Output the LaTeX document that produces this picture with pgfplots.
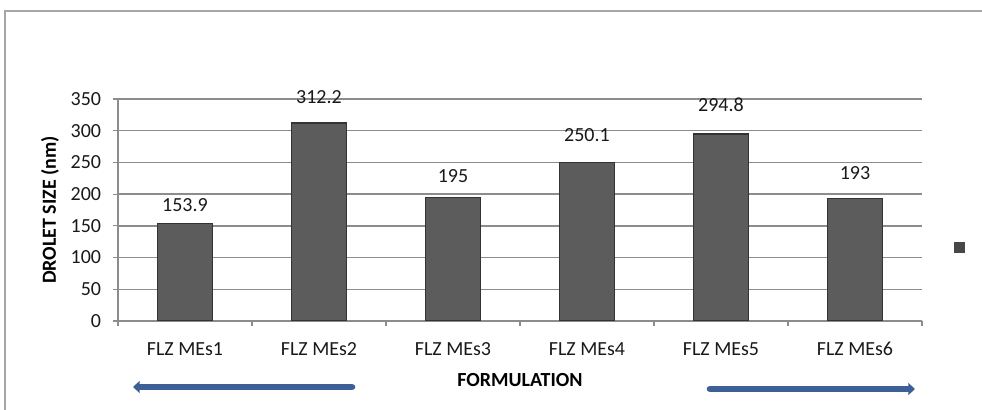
\documentclass[border=0pt]{standalone}
\usepackage{pgfplots}
\pgfplotsset{compat=1.18}
\usepackage{pgfplotstable}
\usepackage{fontspec}
\setmainfont{Carlito}
\usetikzlibrary{arrows.meta}

\definecolor{gridgray}{HTML}{8C8C8C}
\definecolor{framegray}{HTML}{A6A6A6}
\definecolor{arrowblue}{HTML}{3D6096}
\definecolor{barfill}{HTML}{5C5C5C}

% value and label offset (pt) for each formulation
\pgfplotstableread{
x  size   dy
0  153.9  13.5
1  312.2  19.5
2  195    15.75
3  250.1  20.25
4  294.8  21.75
5  193    19.5
}\dropletdata

\begin{document}
\fontsize{15}{18}\selectfont
\begin{tikzpicture}
\useasboundingbox (0,0) rectangle (736.5pt,307.5pt);
% outer chart frame
\draw[framegray, line width=1.5pt] (3.75pt,-2pt) -- (3.75pt,299pt) -- (740pt,299pt);

\begin{axis}[
  at={(88.5pt,66.75pt)}, anchor=south west,
  scale only axis, width=603pt, height=166.5pt,
  xmin=-0.5, xmax=5.5, ymin=0, ymax=350,
  axis x line*=bottom, axis y line*=left,
  axis line style={gridgray, line width=0.9pt},
  tick align=outside,
  major tick length=3.75pt,
  tick style={gridgray, line width=0.8pt},
  ytick={0,50,...,350},
  ymajorgrids,
  grid style={gridgray, line width=1pt},
  xtick={-0.5,0.5,...,5.5},
  x tick label as interval,
  xticklabels={FLZ MEs1,FLZ MEs2,FLZ MEs3,FLZ MEs4,FLZ MEs5,FLZ MEs6},
  xticklabel style={anchor=center, yshift=-17.25pt},
  yticklabel style={anchor=east, xshift=-3.75pt},
  /pgf/number format/assume math mode=true,
  ticklabel style={font=\fontsize{15}{18}\selectfont, text=black!90},
  xlabel={\textbf{FORMULATION}},
  ylabel={\textbf{DROLET SIZE (nm)}},
  every axis x label/.style={at={(axis description cs:0.5,0)}, anchor=center, yshift=-44.25pt, font=\fontsize{15}{18}\selectfont},
  every axis y label/.style={at={(axis description cs:-0.0846,0.5)}, anchor=center, rotate=90, font=\fontsize{15}{18}\selectfont},
  legend style={at={(1.05,0.333)}, anchor=center, draw=none, fill=none, inner sep=0pt, row sep=0pt},
  legend image code/.code={\fill[black!72] (0pt,-3.75pt) rectangle (7.5pt,3.75pt);},
]
\addplot[
  ybar, bar width=41.25pt,
  draw=black!80, line width=0.8pt,
  fill=barfill,
  visualization depends on={\thisrow{dy} \as \labeldy},
  nodes near coords,
  point meta=explicit symbolic,
  every node near coord/.append style={anchor=center, yshift=\labeldy pt, font=\fontsize{15}{18}\selectfont, text=black!90},
] table[x=x, y=size, meta=size] {\dropletdata};
\addlegendentry{}
\end{axis}

% direction arrows under the axis
\draw[arrowblue, line width=5pt, line cap=round, -{Triangle[width=9pt,length=5pt]}] (264pt,17.25pt) -- (99.75pt,17.25pt);
\draw[arrowblue, line width=5pt, line cap=round, -{Triangle[width=9pt,length=5pt]}] (532.5pt,15.75pt) -- (686.25pt,15.75pt);
\end{tikzpicture}
\end{document}
